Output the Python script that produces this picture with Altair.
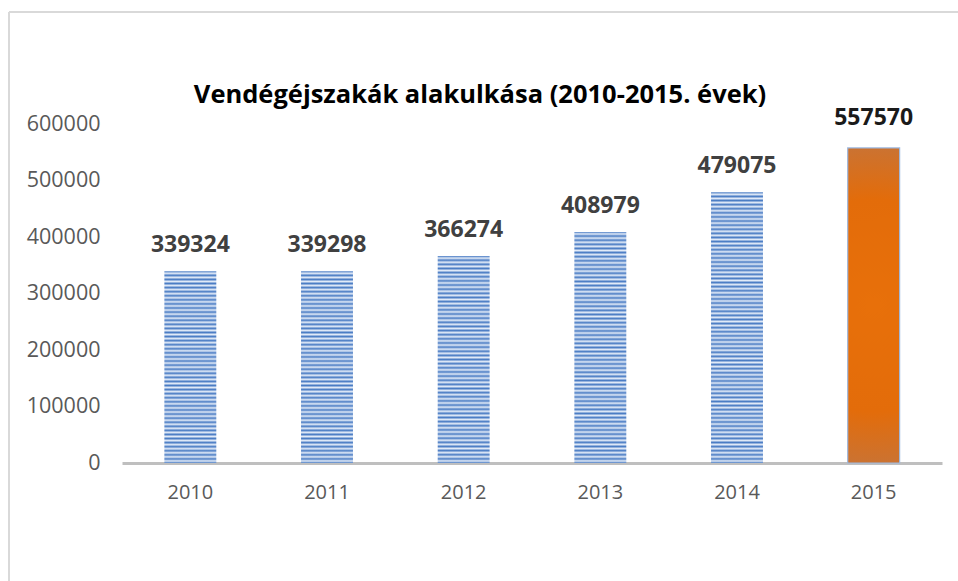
import altair as alt
import pandas as pd

years = ["2010", "2011", "2012", "2013", "2014", "2015"]
values = [339324, 339298, 366274, 408979, 479075, 557570]
highlight = [False, False, False, False, False, True]
title_text = "Vendégéjszakák alakulkása (2010-2015. évek)"

df = pd.DataFrame({"year": years, "value": values, "hl": highlight})

W, H = 820, 339
YMAX = 600000
FONT = "Open Sans"


def stripes(v):
    px = v / YMAX * H
    n = max(1, round(px / 4.1))
    stops = []
    for i in range(n):
        stops.append({"offset": i / n, "color": "#4a7cc4"})
        stops.append({"offset": (i + 0.5) / n, "color": "#e2ebf8"})
    stops.append({"offset": 1.0, "color": "#4a7cc4"})
    return alt.LinearGradient(gradient="linear", x1=0, y1=0, x2=0, y2=1, stops=stops)


orange = alt.RadialGradient(
    gradient="radial", x1=0.5, y1=0.5, r1=0, x2=0.5, y2=0.5, r2=0.75,
    stops=[
        {"offset": 0.0, "color": "#e8700a"},
        {"offset": 0.45, "color": "#e36c0a"},
        {"offset": 0.75, "color": "#c27540"},
        {"offset": 1.0, "color": "#8f7f86"},
    ],
)

x_enc = alt.X(
    "year:N",
    sort=years,
    scale=alt.Scale(paddingInner=0.62, paddingOuter=0.31),
    axis=alt.Axis(
        title=None, labelAngle=0, ticks=False, domainColor="#bfbfbf", domainWidth=3,
        labelColor="#595959", labelFontSize=20, labelFont=FONT, labelPadding=19,
        grid=False,
    ),
)
y_enc = alt.Y(
    "value:Q",
    scale=alt.Scale(domain=[0, YMAX], nice=False),
    axis=alt.Axis(
        title=None, values=[0, 100000, 200000, 300000, 400000, 500000, 600000],
        format="d", ticks=False, domain=False, grid=False,
        labelColor="#595959", labelFontSize=21.5, labelFont=FONT, labelPadding=22,
    ),
)

base = alt.Chart(df)

layers = []
for yr, v, h in zip(years, values, highlight):
    fill = orange if h else stripes(v)
    mk = dict(fill=fill)
    if h:
        mk.update(stroke="#9db8de", strokeWidth=1.2)
    layers.append(
        base.transform_filter(alt.datum.year == yr)
        .mark_bar(**mk)
        .encode(x=x_enc, y=y_enc)
    )

labels = base.transform_filter("!datum.hl").mark_text(
    baseline="alphabetic", dy=-19, fontSize=23, fontWeight="bold", font=FONT, color="#404040"
).encode(x=x_enc, y=y_enc, text=alt.Text("value:Q", format="d"))

labels_hl = base.transform_filter("datum.hl").mark_text(
    baseline="alphabetic", dy=-23, fontSize=23, fontWeight="bold", font=FONT, color="#1a1a1a"
).encode(x=x_enc, y=y_enc, text=alt.Text("value:Q", format="d"))

title = alt.Chart(pd.DataFrame({"t": [title_text]})).mark_text(
    baseline="alphabetic", align="center", fontSize=25.5, fontWeight="bold", font=FONT, color="#000000"
).encode(text="t:N", x=alt.value(358), y=alt.value(-21))

frame_v = base.mark_rule(color="#d9d9d9", strokeWidth=2).encode(
    x=alt.value(-113), y=alt.value(-112), y2=alt.value(460)
)
frame_h = base.mark_rule(color="#d9d9d9", strokeWidth=1.5).encode(
    x=alt.value(-113), x2=alt.value(840), y=alt.value(-112)
)

chart = (
    alt.layer(frame_v, frame_h, *layers, labels, labels_hl, title)
    .properties(
        width=W,
        height=H,
        background="white",
        autosize=alt.AutoSizeParams(type="none"),
        padding={"left": 122, "top": 124, "right": 16, "bottom": 118},
    )
    .configure_view(stroke=None, strokeWidth=0)
)

chart.save("out.html", embed_options={"renderer": "svg", "actions": False})
